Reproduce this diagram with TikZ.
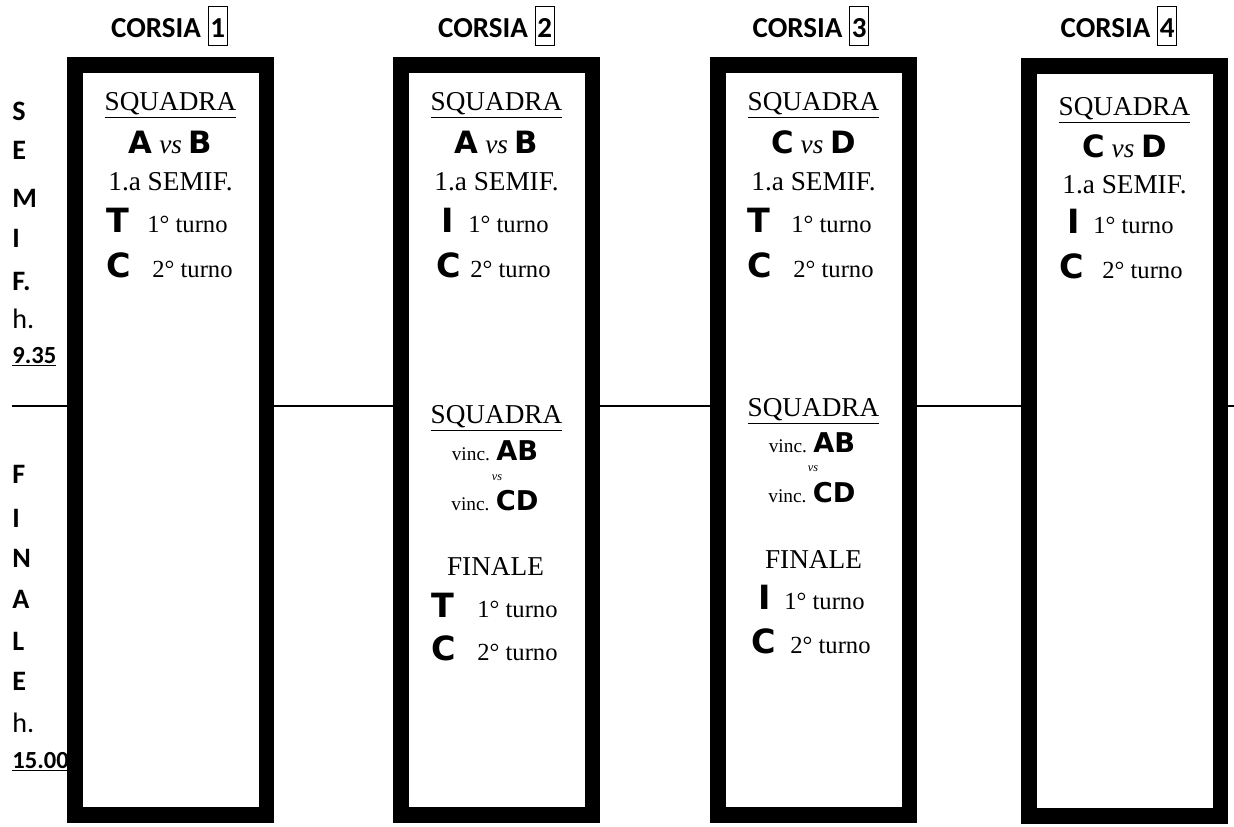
\documentclass[tikz,border=0pt]{standalone}
\usepackage{fontspec}
\setmainfont{Liberation Serif}
\newfontfamily\carlito{Carlito}
\newfontfamily\heavy{DejaVu Sans}
\usepackage{tikz}
\newcommand{\hvy}[1]{{\heavy\bfseries\fontsize{17.5}{20}\selectfont #1}}
\newcommand{\winner}[1]{{\heavy\bfseries\fontsize{15.5}{17}\selectfont #1}}
\newcommand{\lanenum}[1]{{\setlength{\fboxsep}{1pt}\setlength{\fboxrule}{0.6pt}\fbox{\rule[-3.5pt]{0pt}{19.5pt}#1}}}

\begin{document}
\begin{tikzpicture}
      [
      x=0.02cm,y=-0.02cm,
      lane/.style={draw,fill=white,line width=8.8pt,inner sep=0pt,minimum width=3.83cm,minimum height=15.01cm},
      head/.style={anchor=base,inner sep=0pt,font=\carlito\bfseries\fontsize{16.5}{19}\selectfont},
      side/.style={anchor=base west,inner sep=0pt,font=\carlito\bfseries\fontsize{16}{18}\selectfont},
      hour/.style={anchor=base west,inner sep=0pt,font=\carlito\fontsize{16}{18}\selectfont},
      line/.style={anchor=base,inner sep=0pt,font=\fontsize{15.5}{18}\selectfont},
      icon/.style={anchor=base west,inner sep=0pt,font=\heavy\bfseries\fontsize{19}{21}\selectfont},
      turn/.style={anchor=base west,inner sep=0pt,font=\fontsize{14}{16}\selectfont},
      small/.style={anchor=base,inner sep=0pt,font=\fontsize{11}{13}\selectfont},
      tiny/.style={anchor=base,inner sep=0pt,font=\itshape\fontsize{7}{8}\selectfont}
      ]
      \useasboundingbox (0,0) rectangle (1234,826);
      % divider between semifinals and final
      \coordinate (l) at (12,406);
      \coordinate (r) at (1234,406);
      \draw [line width=0.8pt] (l) -- (r);
      % lanes
      \node (1) at (170.5,440) [lane] {};
      \node (2) at (496.5,440) [lane] {};
      \node (3) at (813.5,440) [lane] {};
      \node (4) at (1124.5,441) [lane] {};
      \node (h1) at (169.5,37) [head] {CORSIA \lanenum{1}};
      \node (h2) at (496.5,37) [head] {CORSIA \lanenum{2}};
      \node (h3) at (811,37) [head] {CORSIA \lanenum{3}};
      \node (h4) at (1119,37) [head] {CORSIA \lanenum{4}};
      % left column
      \node (s1) at (12,120) [side] {S};
      \node (s2) at (12,159) [side] {E};
      \node (s3) at (12,207) [side] {M};
      \node (s4) at (12,247) [side] {I};
      \node (s5) at (12,290) [side] {F.};
      \node (s6) at (12,328) [hour] {h.};
      \node (s7) at (12,363) [side,font=\carlito\bfseries\fontsize{14}{16}\selectfont] {\underline{9.35}};
      \node (f1) at (12,483) [side] {F};
      \node (f2) at (12,527) [side] {I};
      \node (f3) at (12,567) [side] {N};
      \node (f4) at (12,608) [side] {A};
      \node (f5) at (12,650) [side] {L};
      \node (f6) at (12,690) [side] {E};
      \node (f7) at (12,732) [hour] {h.};
      \node (f8) at (12,768) [side,font=\carlito\bfseries\fontsize{14}{16}\selectfont] {\underline{15.00}};
      % lane 1
      \node (q1) at (170.5,110) [line] {\underline{SQUADRA}};
      \node (v1) at (170.5,153) [line] {\hvy{A} \textit{vs} \hvy{B}};
      \node (m1) at (170.5,190) [line] {1.a SEMIF.};
      \node (i1) at (106,232) [icon] {T};
      \node (t1) at (147,232) [turn] {1° turno};
      \node (c1) at (106,277) [icon] {C};
      \node (u1) at (152,277) [turn] {2° turno};
      % lane 2
      \node (q2) at (496.5,110) [line] {\underline{SQUADRA}};
      \node (v2) at (496.5,153) [line] {\hvy{A} \textit{vs} \hvy{B}};
      \node (m2) at (496.5,190) [line] {1.a SEMIF.};
      \node (i2) at (441,232) [icon] {I};
      \node (t2) at (468,232) [turn] {1° turno};
      \node (c2) at (436,277) [icon] {C};
      \node (u2) at (470,277) [turn] {2° turno};
      \node (qf2) at (496.5,423) [line] {\underline{SQUADRA}};
      \node (wa2) at (495,460) [small] {vinc. \winner{AB}};
      \node (x2) at (497,480) [tiny] {vs};
      \node (wb2) at (495,510) [small] {vinc. \winner{CD}};
      \node (n2) at (495.5,575) [line] {FINALE};
      \node (if2) at (431,617) [icon] {T};
      \node (tf2) at (477,617) [turn] {1° turno};
      \node (cf2) at (431,660) [icon] {C};
      \node (uf2) at (477,660) [turn] {2° turno};
      % lane 3
      \node (q3) at (813.5,110) [line] {\underline{SQUADRA}};
      \node (v3) at (813.5,153) [line] {\hvy{C} \textit{vs} \hvy{D}};
      \node (m3) at (813.5,190) [line] {1.a SEMIF.};
      \node (i3) at (747,232) [icon] {T};
      \node (t3) at (791,232) [turn] {1° turno};
      \node (c3) at (747,277) [icon] {C};
      \node (u3) at (793,277) [turn] {2° turno};
      \node (qf3) at (813.5,416) [line] {\underline{SQUADRA}};
      \node (wa3) at (812,452) [small] {vinc. \winner{AB}};
      \node (x3) at (813,471) [tiny] {vs};
      \node (wb3) at (812,502) [small] {vinc. \winner{CD}};
      \node (n3) at (813.5,568) [line] {FINALE};
      \node (if3) at (758,609) [icon] {I};
      \node (tf3) at (784,609) [turn] {1° turno};
      \node (cf3) at (751,653) [icon] {C};
      \node (uf3) at (790,653) [turn] {2° turno};
      % lane 4
      \node (q4) at (1124.5,115) [line] {\underline{SQUADRA}};
      \node (v4) at (1124.5,157) [line] {\hvy{C} \textit{vs} \hvy{D}};
      \node (m4) at (1124.5,193) [line] {1.a SEMIF.};
      \node (i4) at (1067,233) [icon] {I};
      \node (t4) at (1093,233) [turn] {1° turno};
      \node (c4) at (1059,278) [icon] {C};
      \node (u4) at (1102,278) [turn] {2° turno};
    \end{tikzpicture}
\end{document}
